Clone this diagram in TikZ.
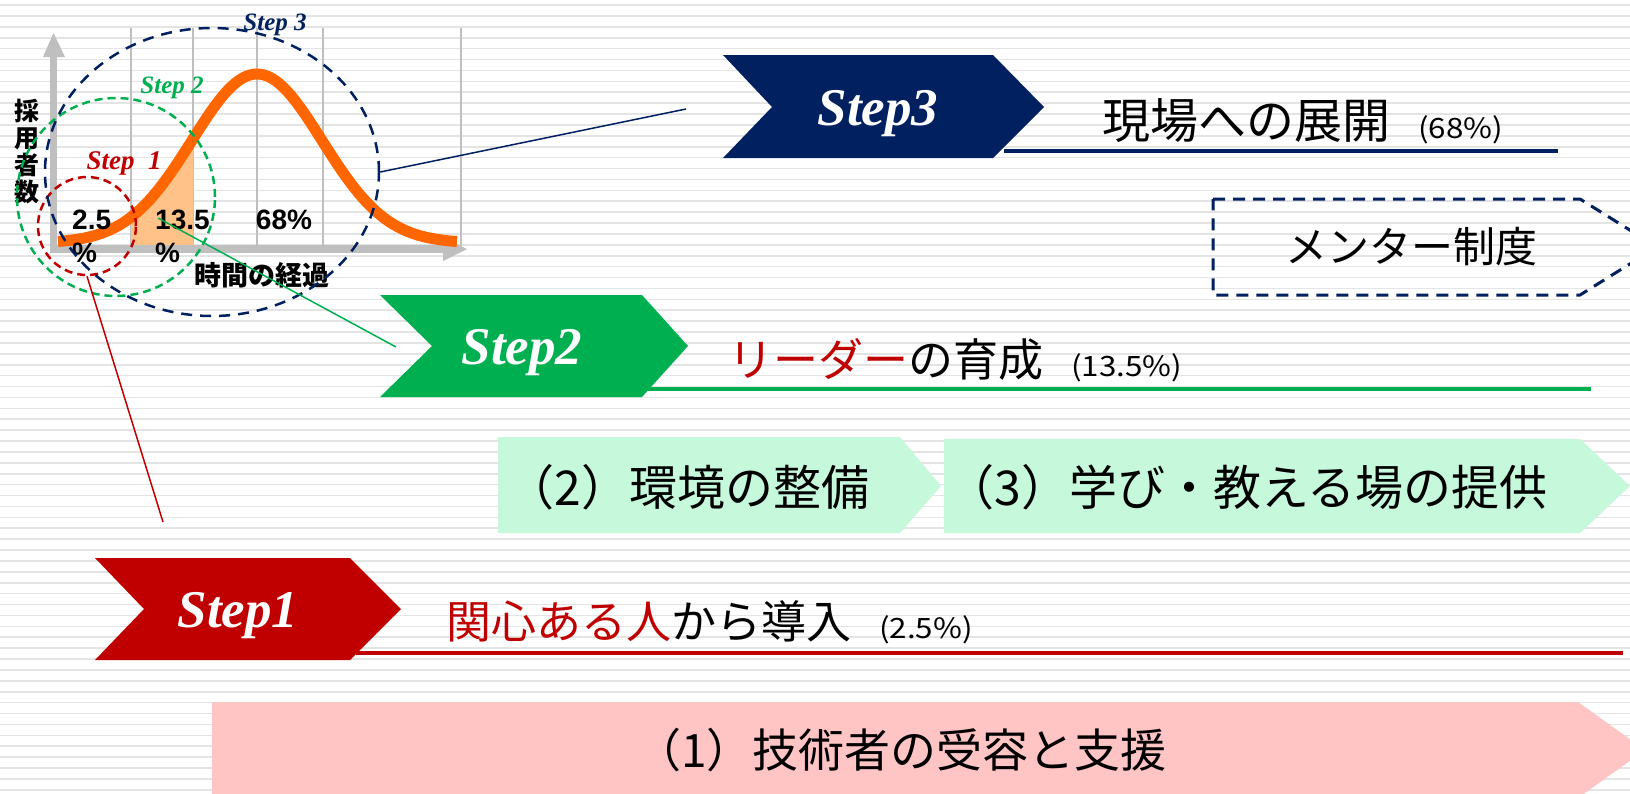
\documentclass[tikz,border=0pt]{standalone}
\usepackage{fontspec}
\setmainfont{Liberation Sans}
\newfontfamily\jp{Noto Sans CJK JP}
\newfontfamily\tms{Liberation Serif}
\usetikzlibrary{shapes.geometric}
\definecolor{navy}{HTML}{002060}
\definecolor{sgreen}{HTML}{00B050}
\definecolor{sred}{HTML}{C00000}
\definecolor{mint}{HTML}{C6F8DC}
\definecolor{pinkbox}{HTML}{FFC4C4}
\definecolor{curveor}{HTML}{FF6600}
\definecolor{curvefill}{HTML}{FFC389}
\definecolor{stripecol}{HTML}{E4E4E4}
\definecolor{axisgrey}{HTML}{BFBFBF}
\newcommand{\fsz}[1]{\fontsize{#1}{#1}\selectfont}
\newcommand{\pctx}[1]{\scalebox{1.12}[1]{\fsz{28}#1}}
\begin{document}
\begin{tikzpicture}[x=1pt,y=-1pt,
  stripeline/.style={stripecol, line width=1.6pt},
  gridline/.style={axisgrey, line width=1.5pt},
  steplabel/.style={font=\tms\bfseries\itshape\fsz{53}, text=white, inner sep=0pt, anchor=base},
  charttag/.style={font=\tms\bfseries\itshape\fsz{25}, inner sep=0pt},
  jptext/.style={font=\jp\fsz{45}, inner sep=0pt, anchor=west},
  boxtext/.style={font=\jp\fsz{48}, inner sep=0pt},
  chartnum/.style={font=\bfseries\fontsize{28}{33}\selectfont, inner sep=0pt},
  dcircle/.style={draw, line width=2.5pt, dash pattern=on 8pt off 5pt, inner sep=0pt},
  connector/.style={line width=1.5pt}
]
\useasboundingbox (0,0) rectangle (1630,793);
\clip (0,0) rectangle (1630,793);
\fill[white] (0,0) rectangle (1630,793);
\foreach \i in {0,...,72} {\draw[stripeline] (0,{5+10.9*\i}) -- (1630,{5+10.9*\i});}

% ---------- chart ----------
\foreach \gx in {131,193,257,323,461} {\draw[gridline] (\gx,28) -- (\gx,246);}
\fill[curvefill] (131,247) -- plot[domain=131:193,samples=20] (\x,{243-169*exp(-0.5*((\x-257)/65)^2)}) -- (193,247) -- cycle;
% axes
\fill[axisgrey] (50,253) rectangle (57,56);
\fill[axisgrey] (43,57) -- (53.5,33) -- (65,57) -- cycle;
\fill[axisgrey] (50,245) rectangle (444,253);
\fill[axisgrey] (443,237) -- (467,249) -- (443,261) -- cycle;
% curve
\draw[curveor, line width=11pt, line join=round] plot[domain=58:457,samples=100] (\x,{243-169*exp(-0.5*((\x-257)/65)^2)});

% chart texts
\node[font=\jp\bfseries\fontsize{25}{27}\selectfont, align=center, inner sep=0pt] (yl) at (27,152) {採\\用\\者\\数};
\node[font=\jp\bfseries\fsz{27}, inner sep=0pt] (xl) at (262,275) {時間の経過};
\node[chartnum, align=left, anchor=north west] (p1) at (72,210) {2.5\\\%};
\node[chartnum, align=left, anchor=north west] (p2) at (155,210) {13.5\\\%};
\node[chartnum] (p3) at (284,220) {68\%};
\node[charttag, text=navy] (t3) at (275,25) {Step 3};
\node[charttag, text=sgreen] (t2) at (172,88) {Step 2};
\node[charttag, text=sred, font=\tms\bfseries\itshape\fsz{27}] (t1) at (124,163) {Step\ \ 1};

% dashed circles
\node[dcircle, sred, circle, minimum size=98pt] (c1) at (87,226) {};
\node[dcircle, sgreen, circle, minimum size=198pt] (c2) at (116,197) {};
\node[dcircle, navy, ellipse, minimum width=334pt, minimum height=288pt, dash pattern=on 11pt off 8pt] (c3) at (212,172) {};

% ---------- bottom boxes ----------
\fill[pinkbox] (212,702) -- (1578,702) -- (1645,750) -- (1578,798) -- (212,798) -- cycle;
\node[boxtext, font=\jp\fsz{46}] (b1) at (901,750) {（1）技術者の受容と支援};
\fill[mint] (498,437) -- (900,437) -- (941,486) -- (900,533) -- (498,533) -- cycle;
\node[boxtext] (b2) at (688,487) {（2）環境の整備};
\fill[mint] (944,439) -- (1580,439) -- (1630,486) -- (1580,533) -- (944,533) -- cycle;
\node[boxtext] (b3) at (1247,487) {（3）学び・教える場の提供};

% mentor
\draw[navy, line width=3pt, dash pattern=on 12pt off 8pt] (1213,199) -- (1580,199) -- (1657,247) -- (1580,295) -- (1213,295) -- cycle;
\node[boxtext, font=\jp\fsz{42}] (mt) at (1411,247) {メンター制度};

% ---------- steps ----------
\fill[navy] (723,55) -- (993,55) -- (1044,107) -- (993,158) -- (723,158) -- (772,107) -- cycle;
\node[steplabel] (s3) at (878,125) {Step3};
\draw[navy, line width=4pt] (1004,151) -- (1558,151);
\node[jptext, font=\jp\fsz{48}] (d3) at (1102,121) {現場への展開\hspace{28pt}\pctx{(68\%)}};

\fill[sgreen] (380,295) -- (642,295) -- (688,346) -- (642,397) -- (380,397) -- (432,346) -- cycle;
\node[steplabel] (s2) at (522,364) {Step2};
\draw[sgreen, line width=4.5pt] (643,389) -- (1591,389);
\node[jptext] (d2) at (728,360) {\textcolor{sred}{リーダー}の育成\hspace{28pt}\pctx{(13.5\%)}};

\fill[sred] (95,558) -- (350,558) -- (401,609) -- (350,660) -- (95,660) -- (144,609) -- cycle;
\node[steplabel] (s1) at (238,627) {Step1};
\draw[sred, line width=4.5pt] (356,653) -- (1623,653);
\node[jptext] (d1) at (446,622) {\textcolor{sred}{関心ある人}から導入\hspace{28pt}\pctx{(2.5\%)}};

% ---------- connectors ----------
\coordinate (n3end) at (686,109);
\draw[navy, connector] (c3.east) -- (n3end);
\coordinate (g2start) at (158,218);
\coordinate (g2end) at (396,347);
\draw[sgreen, connector] (g2start) -- (g2end);
\coordinate (r1end) at (163,522);
\draw[sred, connector] (c1.south) -- (r1end);
\end{tikzpicture}
\end{document}
